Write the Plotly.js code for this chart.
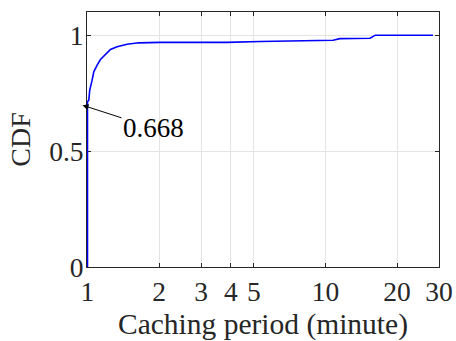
<!DOCTYPE html>
<html>
<head>
<meta charset="utf-8">
<script src="https://cdn.plot.ly/plotly-3.0.1.min.js"></script>
<style>html,body{margin:0;padding:0;background:#fff;}#chart{width:456px;height:341px;}</style>
</head>
<body>
<div id="chart"></div>
<script>
// Caching period (minute) values and CDF values
var periodMinutes = [1, 1, 1.013, 1.022, 1.046, 1.063, 1.098, 1.134, 1.249, 1.332, 1.467, 1.642, 2.025, 3.855, 5.32, 8.62, 10.77, 11.5, 15.4, 16.2, 28.3];
var cdfValues    = [0, 0.713, 0.72, 0.763, 0.806, 0.842, 0.871, 0.895, 0.938, 0.95, 0.961, 0.967, 0.969, 0.969, 0.973, 0.976, 0.978, 0.985, 0.987, 1.0, 1.0];
var xTickVals = [1, 2, 3, 4, 5, 10, 20, 30];
var xTickText = ['1', '2', '3', '4', '5', '10', '20', '30'];
var yTickVals = [0, 0.5, 1];
var yTickText = ['0', '0.5', '1'];
var annotX = 1, annotY = 0.698, annotText = '0.668';

var font = 'Liberation Serif, Times New Roman, serif';
var axisCommon = {
  showline: true, linecolor: '#262626', linewidth: 1, mirror: 'ticks',
  ticks: 'inside', ticklen: 4, tickwidth: 1, tickcolor: '#262626',
  showgrid: true, gridcolor: '#e4e4e4', gridwidth: 1,
  zeroline: false, layer: 'below traces',
  tickfont: {family: font, size: 27.5, color: '#262626'}
};

var trace = {
  x: periodMinutes, y: cdfValues, type: 'scatter', mode: 'lines',
  line: {color: '#0000ff', width: 1.6}, hoverinfo: 'skip', cliponaxis: false
};

var layout = {
  width: 456, height: 341,
  margin: {l: 87, r: 17, t: 12, b: 74},
  paper_bgcolor: '#fff', plot_bgcolor: '#fff',
  showlegend: false,
  xaxis: Object.assign({}, axisCommon, {
    type: 'log', range: [-0.002, Math.log10(30)],
    tickmode: 'array', tickvals: xTickVals, ticktext: xTickText,
    title: {text: 'Caching period (minute)', font: {family: font, size: 29.5, color: '#262626'}, standoff: 7}
  }),
  yaxis: Object.assign({}, axisCommon, {
    range: [0, 1.1],
    tickmode: 'array', tickvals: yTickVals, ticktext: yTickText,
    ticklabelstandoff: -3,
    title: {text: 'CDF', font: {family: font, size: 28, color: '#262626'}, standoff: 10}
  }),
  annotations: [{
    x: Math.log10(annotX), y: annotY, xref: 'x', yref: 'y', xshift: -5,
    text: annotText, showarrow: true, arrowhead: 2, arrowsize: 1.2, arrowwidth: 1,
    arrowcolor: '#000', ax: 71, ay: 23,
    font: {family: font, size: 27, color: '#000'}
  }]
};

Plotly.newPlot('chart', [trace], layout, {displayModeBar: false, staticPlot: true});
</script>
</body>
</html>
